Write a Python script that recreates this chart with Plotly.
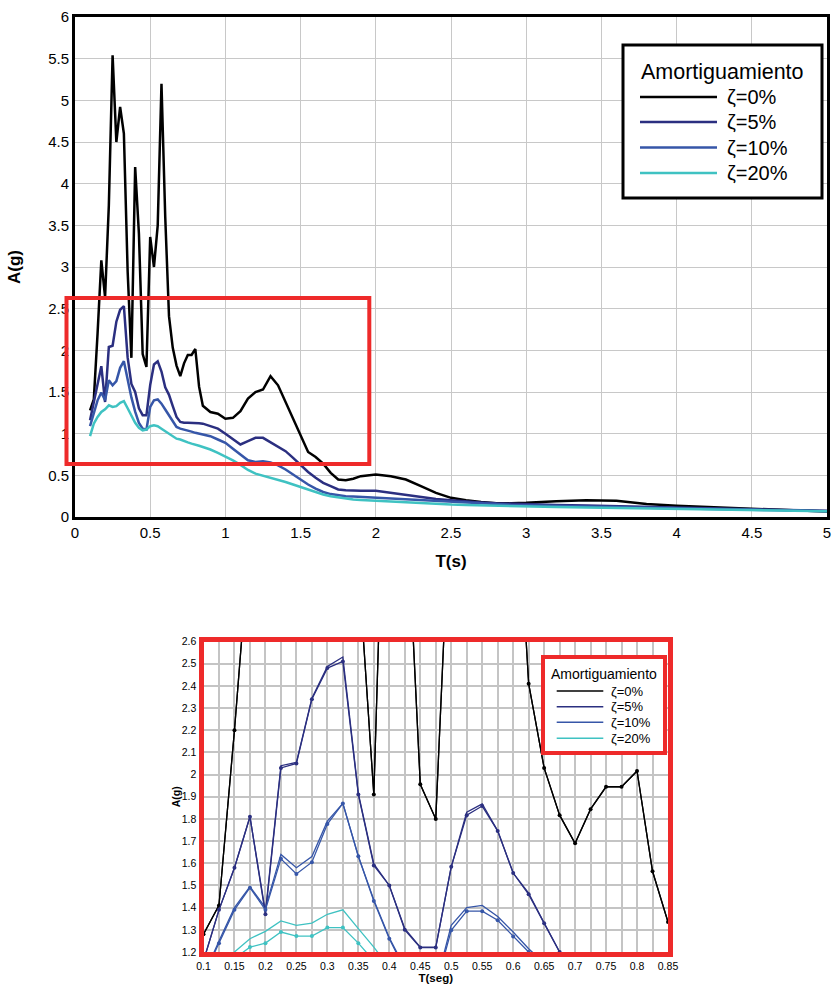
import plotly.graph_objects as go

W, H = 832, 986

# ---------------- data ----------------
T = [0.1, 0.125, 0.15, 0.175, 0.2, 0.225, 0.25, 0.275, 0.3, 0.325, 0.35, 0.375, 0.4, 0.425,
     0.45, 0.475, 0.5, 0.525, 0.55, 0.575, 0.6, 0.625, 0.65, 0.675, 0.7, 0.725, 0.75, 0.775,
     0.8, 0.825, 0.85,
     0.9, 0.95, 1.0, 1.05, 1.1, 1.15, 1.2, 1.25, 1.3, 1.35, 1.4, 1.45, 1.5, 1.55, 1.6, 1.65,
     1.7, 1.75, 1.8, 1.85, 1.9,
     2.0, 2.1, 2.2, 2.3, 2.4, 2.5, 2.6, 2.7, 2.8, 2.9, 3.0,
     3.2, 3.4, 3.6, 3.8, 4.0, 4.2, 4.4, 4.6, 4.8, 5.0]

A_0 = [1.28, 1.41, 2.2, 3.08, 2.64, 3.74, 5.54, 4.5, 4.92, 4.6, 2.95, 1.91, 4.2, 3.4,
       1.956, 1.80, 3.36, 3.0, 3.5, 5.2, 3.6, 2.41, 2.03, 1.817, 1.69, 1.844, 1.945, 1.945,
       2.016, 1.564, 1.335,
       1.26, 1.24, 1.18, 1.19, 1.27, 1.42, 1.50, 1.53, 1.69, 1.58, 1.38, 1.2, 1.0, 0.78, 0.72,
       0.64, 0.53, 0.45, 0.44, 0.46, 0.49,
       0.51, 0.49, 0.45, 0.37, 0.29, 0.23, 0.2, 0.18, 0.165, 0.165, 0.17,
       0.19, 0.20, 0.195, 0.155, 0.135, 0.12, 0.105, 0.09, 0.078, 0.065]

A_5 = [1.16, 1.39, 1.58, 1.81, 1.38, 2.04, 2.055, 2.344, 2.487, 2.53, 1.915, 1.597, 1.5, 1.305,
       1.222, 1.222, 1.584, 1.83, 1.868, 1.746, 1.556, 1.466, 1.33, 1.2, 1.14, 1.13, 1.13, 1.13,
       1.13, 1.125, 1.12,
       1.09, 1.06, 1.0, 0.94, 0.87, 0.91, 0.95, 0.95, 0.9, 0.84, 0.79, 0.71, 0.62, 0.54, 0.47,
       0.41, 0.37, 0.33, 0.32, 0.315, 0.315,
       0.315, 0.29, 0.265, 0.235, 0.215, 0.2, 0.185, 0.175, 0.165, 0.158, 0.152,
       0.145, 0.138, 0.13, 0.122, 0.115, 0.105, 0.098, 0.09, 0.082, 0.074]

A_10 = [1.09, 1.25, 1.40, 1.495, 1.40, 1.64, 1.58, 1.63, 1.79, 1.87, 1.632, 1.435, 1.264, 1.13,
        1.06, 1.05, 1.32, 1.40, 1.41, 1.36, 1.29, 1.215, 1.15, 1.08, 1.06, 1.05, 1.04, 1.025,
        1.01, 1.0, 0.99,
        0.97, 0.93, 0.89, 0.82, 0.75, 0.68, 0.66, 0.67, 0.655, 0.62, 0.57, 0.51, 0.445, 0.39,
        0.34, 0.3, 0.275, 0.26, 0.25, 0.245, 0.24,
        0.235, 0.225, 0.21, 0.2, 0.19, 0.18, 0.17, 0.16, 0.15, 0.145, 0.14,
        0.132, 0.125, 0.12, 0.112, 0.105, 0.097, 0.09, 0.083, 0.077, 0.07]

A_20 = [0.97, 1.12, 1.20, 1.26, 1.293, 1.34, 1.32, 1.33, 1.37, 1.39, 1.305, 1.222, 1.13, 1.07,
        1.04, 1.05, 1.09, 1.10, 1.09, 1.06, 1.03, 0.99, 0.96, 0.94, 0.93, 0.91, 0.895, 0.88,
        0.87, 0.855, 0.84,
        0.81, 0.77, 0.73, 0.68, 0.625, 0.565, 0.52, 0.495, 0.475, 0.45, 0.42, 0.39, 0.36, 0.325,
        0.295, 0.27, 0.25, 0.235, 0.22, 0.21, 0.205,
        0.195, 0.185, 0.175, 0.165, 0.158, 0.15, 0.145, 0.14, 0.135, 0.13, 0.125,
        0.12, 0.115, 0.11, 0.104, 0.098, 0.092, 0.086, 0.08, 0.074, 0.068]

# second (marked) curves visible in the detail view, T = 0.1 .. 0.85
TZ = T[:31]
Z_5 = [1.16, 1.39, 1.58, 1.81, 1.37, 2.03, 2.05, 2.34, 2.48, 2.51, 1.91, 1.59, 1.5, 1.30,
       1.22, 1.22, 1.584, 1.817, 1.858, 1.746, 1.556, 1.46, 1.33, 1.2, 1.14, 1.13, 1.13, 1.13,
       1.13, 1.125, 1.12]
Z_10 = [1.09, 1.24, 1.39, 1.49, 1.39, 1.62, 1.552, 1.605, 1.777, 1.87, 1.632, 1.43, 1.26, 1.12,
        1.05, 1.04, 1.298, 1.384, 1.384, 1.343, 1.27, 1.2, 1.14, 1.07, 1.05, 1.04, 1.03, 1.02,
        1.0, 0.99, 0.98]
Z_20 = [0.96, 1.07, 1.17, 1.222, 1.24, 1.29, 1.272, 1.272, 1.31, 1.31, 1.24, 1.16, 1.08, 1.03,
        1.0, 1.01, 1.05, 1.06, 1.05, 1.02, 0.99, 0.95, 0.92, 0.9, 0.89, 0.87, 0.86, 0.85,
        0.84, 0.83, 0.82]

NAMES = ["ζ=0%", "ζ=5%", "ζ=10%", "ζ=20%"]
LEGEND_TITLE = "Amortiguamiento"
COLORS = ["#000000", "#2b2f80", "#3656a8", "#3fc2c2"]
MAIN = [A_0, A_5, A_10, A_20]
MARKED = [A_0[:31], Z_5, Z_10, Z_20]

FONT = "Liberation Sans, Arial, sans-serif"
RED = "#ee2a2a"

fig = go.Figure()

# ---- top chart ----
for name, col, y in zip(NAMES, COLORS, MAIN):
    fig.add_trace(go.Scatter(x=T, y=y, mode="lines", name=name, showlegend=False,
                             line=dict(color=col, width=2.5), xaxis="x", yaxis="y"))

# ---- detail chart ----
for name, col, y in zip(NAMES, COLORS, MAIN):
    fig.add_trace(go.Scatter(x=T, y=y, mode="lines", name=name, showlegend=False,
                             line=dict(color=col, width=1.3), xaxis="x2", yaxis="y2"))
for name, col, y in zip(NAMES, COLORS, MARKED):
    fig.add_trace(go.Scatter(x=TZ, y=y, mode="lines+markers", name=name, showlegend=False,
                             line=dict(color=col, width=1.3), marker=dict(size=4, color=col),
                             xaxis="x2", yaxis="y2", cliponaxis=True))

def px(x, y):
    return x / W, 1 - y / H

shapes = []
annotations = []

# highlight rectangle on the main chart
x0, y0 = px(66.5, 464)
x1, y1 = px(369.3, 298)
shapes.append(dict(type="rect", xref="paper", yref="paper", x0=x0, x1=x1, y0=y0, y1=y1,
                   line=dict(color=RED, width=4), fillcolor="rgba(0,0,0,0)"))

def add_legend(box, border_col, border_w, title_y, title_size, rows_y, line_x, text_x,
               text_size, line_w):
    bx0, by0 = px(box[0], box[3])
    bx1, by1 = px(box[2], box[1])
    shapes.append(dict(type="rect", xref="paper", yref="paper", x0=bx0, x1=bx1, y0=by0, y1=by1,
                       line=dict(color=border_col, width=border_w), fillcolor="white"))
    tx, ty = px((box[0] + box[2]) / 2, title_y)
    annotations.append(dict(xref="paper", yref="paper", x=tx, y=ty, text=LEGEND_TITLE,
                            showarrow=False, xanchor="center", yanchor="middle",
                            font=dict(size=title_size, family=FONT, color="black")))
    for name, col, ry in zip(NAMES, COLORS, rows_y):
        lx0, ly = px(line_x[0], ry)
        lx1, _ = px(line_x[1], ry)
        shapes.append(dict(type="line", xref="paper", yref="paper", x0=lx0, x1=lx1, y0=ly, y1=ly,
                           line=dict(color=col, width=line_w)))
        ax, _ = px(text_x, ry)
        annotations.append(dict(xref="paper", yref="paper", x=ax, y=ly, text=name,
                                showarrow=False, xanchor="left", yanchor="middle",
                                font=dict(size=text_size, family=FONT, color="black")))

add_legend(box=(623, 45, 822, 198), border_col="black", border_w=3, title_y=72, title_size=21.5,
           rows_y=(97, 122, 147.5, 173), line_x=(640, 717), text_x=725, text_size=20, line_w=2.5)
add_legend(box=(543, 657, 665, 753), border_col=RED, border_w=4, title_y=674, title_size=14,
           rows_y=(691, 706.7, 722.3, 738.3), line_x=(556.7, 603.3), text_x=609, text_size=13,
           line_w=1.5)

fig.update_layout(
    width=W, height=H,
    margin=dict(l=0, r=0, t=0, b=0),
    paper_bgcolor="white", plot_bgcolor="white",
    template="none",
    showlegend=False,
    font=dict(family=FONT, color="black"),
    xaxis=dict(domain=[75 / W, 827 / W], range=[0, 5], dtick=0.5, tick0=0,
               showgrid=True, gridcolor="#c8c8c8", gridwidth=1, zeroline=False,
               showline=True, linecolor="black", linewidth=3, mirror=True,
               ticks="", tickfont=dict(size=15), automargin=False,
               title=dict(text="<b>T(s)</b>", font=dict(size=17), standoff=16)),
    yaxis=dict(domain=[1 - 517 / H, 1 - 17 / H], range=[0, 6], dtick=0.5, tick0=0,
               showgrid=True, gridcolor="#c8c8c8", gridwidth=1, zeroline=False,
               showline=True, linecolor="black", linewidth=3, mirror=True,
               ticks="", tickfont=dict(size=15), automargin=False,
               title=dict(text="<b>A(g)</b>", font=dict(size=17), standoff=24)),
    xaxis2=dict(domain=[203.5 / W, 668 / W], range=[0.1, 0.85], dtick=0.05, tick0=0.1,
                showgrid=True, gridcolor="#c4c4c4", gridwidth=1.5, zeroline=False,
                minor=dict(dtick=0.025, tick0=0.1, showgrid=True, gridcolor="#c4c4c4", gridwidth=1.5),
                showline=True, linecolor=RED, linewidth=5, mirror=True,
                ticks="", tickfont=dict(size=10.5), automargin=False, anchor="y2",
                title=dict(text="<b>T(seg)</b>", font=dict(size=11.5), standoff=2)),
    yaxis2=dict(domain=[1 - 952 / H, 1 - 641.5 / H], range=[1.2, 2.6], dtick=0.1, tick0=1.2,
                showgrid=True, gridcolor="#c4c4c4", gridwidth=1.5, zeroline=False,
                showline=True, linecolor=RED, linewidth=5, mirror=True,
                ticks="", tickfont=dict(size=10.5), automargin=False, anchor="x2",
                title=dict(text="<b>A(g)</b>", font=dict(size=10.5), standoff=1)),
    shapes=shapes,
    annotations=annotations,
)

fig.write_html("out.html")
